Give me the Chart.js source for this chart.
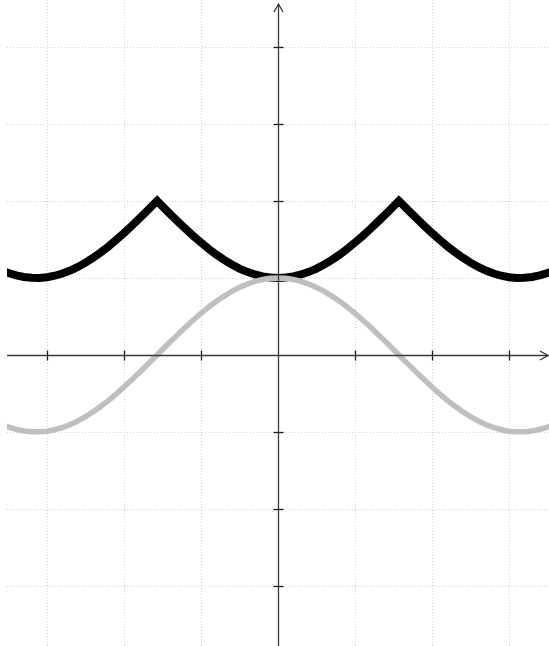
<!DOCTYPE html>
<html>
<head>
<meta charset="utf-8">
<style>
  html, body { margin: 0; padding: 0; background: #ffffff; }
  #wrap { width: 549px; height: 646px; }
</style>
<script src="https://cdn.jsdelivr.net/npm/chart.js@4/dist/chart.umd.min.js"></script>
</head>
<body>
<div id="wrap"><canvas id="plot" width="549" height="646"></canvas></div>
<script>
// sample positions along the horizontal axis
const xs = [-3.6, -3.5, -3.4, -3.3, -3.2, -3.1, -3.0, -2.9, -2.8, -2.7, -2.6, -2.5, -2.4, -2.3, -2.2, -2.1, -2.0,
  -1.9, -1.8, -1.7, -1.6, -1.57, -1.5, -1.4, -1.3, -1.2, -1.1, -1.0, -0.9, -0.8, -0.7, -0.6, -0.5, -0.4, -0.3, -0.2, -0.1,
  0.0, 0.1, 0.2, 0.3, 0.4, 0.5, 0.6, 0.7, 0.8, 0.9, 1.0, 1.1, 1.2, 1.3, 1.4, 1.5, 1.57, 1.6, 1.7, 1.8, 1.9,
  2.0, 2.1, 2.2, 2.3, 2.4, 2.5, 2.6, 2.7, 2.8, 2.9, 3.0, 3.1, 3.2, 3.3, 3.4, 3.5, 3.6];

// grey wave
const waveValues = [-0.897, -0.936, -0.967, -0.987, -0.998, -0.999, -0.990, -0.971, -0.942, -0.904, -0.857, -0.801, -0.737, -0.666, -0.589, -0.505, -0.416,
  -0.323, -0.227, -0.129, -0.029, 0.000, 0.071, 0.170, 0.267, 0.362, 0.454, 0.540, 0.622, 0.697, 0.765, 0.825, 0.878, 0.921, 0.955, 0.980, 0.995,
  1.000, 0.995, 0.980, 0.955, 0.921, 0.878, 0.825, 0.765, 0.697, 0.622, 0.540, 0.454, 0.362, 0.267, 0.170, 0.071, 0.000, -0.029, -0.129, -0.227, -0.323,
  -0.416, -0.505, -0.589, -0.666, -0.737, -0.801, -0.857, -0.904, -0.942, -0.971, -0.990, -0.999, -0.998, -0.987, -0.967, -0.936, -0.897];

// black curve with pointed peaks
const peakValues = [1.103, 1.064, 1.033, 1.013, 1.002, 1.001, 1.010, 1.029, 1.058, 1.096, 1.143, 1.199, 1.263, 1.334, 1.411, 1.495, 1.584,
  1.677, 1.773, 1.871, 1.971, 2.000, 1.929, 1.830, 1.733, 1.638, 1.546, 1.460, 1.378, 1.303, 1.235, 1.175, 1.122, 1.079, 1.045, 1.020, 1.005,
  1.000, 1.005, 1.020, 1.045, 1.079, 1.122, 1.175, 1.235, 1.303, 1.378, 1.460, 1.546, 1.638, 1.733, 1.830, 1.929, 2.000, 1.971, 1.871, 1.773, 1.677,
  1.584, 1.495, 1.411, 1.334, 1.263, 1.199, 1.143, 1.096, 1.058, 1.029, 1.010, 1.001, 1.002, 1.013, 1.033, 1.064, 1.103];

// integer grid / tick positions
const xTicks = [-3, -2, -1, 1, 2, 3];
const yTicks = [-3, -2, -1, 1, 2, 3, 4];

const toPoints = (vals) => xs.map((x, i) => ({ x: x, y: vals[i] }));

// dotted grid and tick marks behind the curves
const gridPlugin = {
  id: 'dottedGrid',
  beforeDatasetsDraw(chart) {
    const { ctx, chartArea: a, scales: { x, y } } = chart;
    const ox = Math.round(x.getPixelForValue(0)) + 0.5;
    const oy = Math.round(y.getPixelForValue(0)) + 0.5;
    ctx.save();
    ctx.strokeStyle = '#cfcfcf';
    ctx.lineWidth = 1;
    ctx.setLineDash([1, 2]);
    xTicks.forEach(v => {
      const px = Math.round(x.getPixelForValue(v)) + 0.5;
      ctx.beginPath(); ctx.moveTo(px, a.top); ctx.lineTo(px, a.bottom); ctx.stroke();
    });
    yTicks.forEach(v => {
      const py = Math.round(y.getPixelForValue(v)) + 0.5;
      ctx.beginPath(); ctx.moveTo(a.left, py); ctx.lineTo(a.right, py); ctx.stroke();
    });
    ctx.setLineDash([]);
    ctx.strokeStyle = '#1a1a1a';
    ctx.lineWidth = 1.3;
    xTicks.forEach(v => {
      const px = Math.round(x.getPixelForValue(v)) + 0.5;
      ctx.beginPath(); ctx.moveTo(px, oy - 5); ctx.lineTo(px, oy + 5); ctx.stroke();
    });
    yTicks.forEach(v => {
      const py = Math.round(y.getPixelForValue(v)) + 0.5;
      ctx.beginPath(); ctx.moveTo(ox - 5, py); ctx.lineTo(ox + 5, py); ctx.stroke();
    });
    ctx.restore();
  }
};

// coordinate axes with arrow heads, drawn over the curves
const axesPlugin = {
  id: 'arrowAxes',
  afterDatasetsDraw(chart) {
    const { ctx, chartArea: a, scales: { x, y } } = chart;
    const ox = Math.round(x.getPixelForValue(0)) + 0.5;
    const oy = Math.round(y.getPixelForValue(0)) + 0.5;
    ctx.save();
    ctx.strokeStyle = '#3a3a3a';
    ctx.lineWidth = 1.3;
    ctx.setLineDash([]);
    // horizontal axis
    const xEnd = a.right - 1;
    ctx.beginPath(); ctx.moveTo(a.left, oy); ctx.lineTo(xEnd, oy); ctx.stroke();
    ctx.beginPath(); ctx.moveTo(xEnd - 8, oy - 4.5); ctx.lineTo(xEnd, oy); ctx.lineTo(xEnd - 8, oy + 4.5); ctx.stroke();
    // vertical axis
    const yEnd = a.top + 4;
    ctx.beginPath(); ctx.moveTo(ox, a.bottom); ctx.lineTo(ox, yEnd); ctx.stroke();
    ctx.beginPath(); ctx.moveTo(ox - 4.5, yEnd + 8); ctx.lineTo(ox, yEnd); ctx.lineTo(ox + 4.5, yEnd + 8); ctx.stroke();
    ctx.restore();
  }
};

new Chart(document.getElementById('plot'), {
  type: 'line',
  data: {
    datasets: [
      {
        data: toPoints(waveValues),
        borderColor: '#bfbfbf',
        borderWidth: 5.5,
        pointRadius: 0,
        tension: 0,
        borderJoinStyle: 'round',
        fill: false
      },
      {
        data: toPoints(peakValues),
        borderColor: '#000000',
        borderWidth: 8,
        pointRadius: 0,
        tension: 0,
        borderJoinStyle: 'miter',
        fill: false
      }
    ]
  },
  options: {
    responsive: false,
    animation: false,
    devicePixelRatio: 1,
    layout: { padding: { left: 7, right: 0, top: 0, bottom: 0 } },
    plugins: { legend: { display: false }, tooltip: { enabled: false } },
    scales: {
      x: { type: 'linear', min: -3.52, max: 3.52, display: false },
      y: { type: 'linear', min: -3.78, max: 4.61, display: false }
    }
  },
  plugins: [gridPlugin, axesPlugin]
});
</script>
</body>
</html>
